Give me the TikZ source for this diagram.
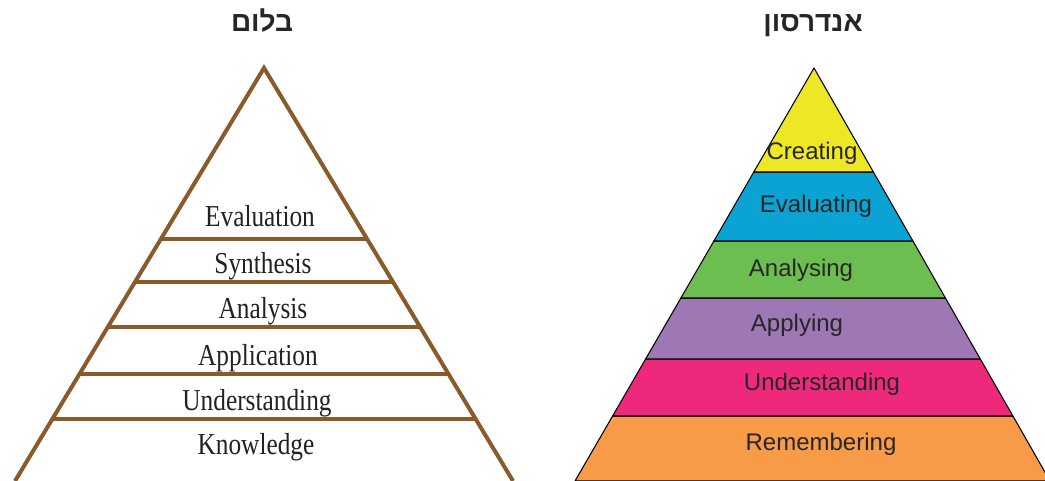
\documentclass[tikz,border=0pt]{standalone}
\usepackage{fontspec}
\setmainfont{Liberation Serif}
\setsansfont{Liberation Sans}
\newfontfamily\hebfont[Script=Hebrew]{Liberation Sans}
\TeXXeTstate=1
\definecolor{brownline}{HTML}{8B5A2B}
\definecolor{cyellow}{HTML}{EDE726}
\definecolor{cblue}{HTML}{0AA3D4}
\definecolor{cgreen}{HTML}{6DBE50}
\definecolor{cpurple}{HTML}{9D78B5}
\definecolor{cpink}{HTML}{EE297B}
\definecolor{corange}{HTML}{F79B48}
\definecolor{txtgray}{HTML}{222222}
\newcommand\tallbox[1]{\scalebox{1}[1.2]{#1}}
\tikzset{
  bline/.style={draw=brownline, line width=3pt},
  band/.style={draw=black, line width=0.8pt, line join=round},
  bloomtxt/.style={inner sep=0pt, text=txtgray, font=\fontsize{19}{19}\selectfont},
  andtxt/.style={inner sep=0pt, text=black!85, font=\sffamily\fontsize{18}{18}\selectfont},
  titletxt/.style={inner sep=0pt, anchor=base, text=black!85, font=\hebfont\bfseries\fontsize{21}{21}\selectfont}
}
\begin{document}
\begin{tikzpicture}[x=0.75pt,y=-0.75pt]
\useasboundingbox (0,0) rectangle (1045,481);
\clip (0,0) rectangle (1045,481);
% titles
\node[titletxt] (tbloom) at (262,32) {\beginR בלום\endR};
\node[titletxt] (tand) at (813,32) {\beginR אנדרסון\endR};
% Bloom pyramid
\draw[bline, line join=miter] (15,481) -- (264,68) -- (513,481);
\draw[bline] (160.9,239) -- (367.1,239);
\draw[bline] (135,282) -- (393,282);
\draw[bline] (107.8,327) -- (420.2,327);
\draw[bline] (79.5,374) -- (448.5,374);
\draw[bline] (52.3,419) -- (475.7,419);
\node[bloomtxt] (b1) at (260,216) {\tallbox{Evaluation}};
\node[bloomtxt] (b2) at (263,266) {\tallbox{Synthesis}};
\node[bloomtxt] (b3) at (263,311) {\tallbox{Analysis}};
\node[bloomtxt] (b4) at (258,358) {\tallbox{Application}};
\node[bloomtxt] (b5) at (257,403) {\tallbox{Understanding}};
\node[bloomtxt] (b6) at (256,447) {\tallbox{Knowledge}};
% Anderson pyramid
\filldraw[band, fill=corange] (575,481) -- (612.6,416) -- (1012.9,416) -- (1050,481) -- cycle;
\filldraw[band, fill=cpink] (612.6,416) -- (645.6,359) -- (980.3,359) -- (1012.9,416) -- cycle;
\filldraw[band, fill=cpurple] (645.6,359) -- (680.9,298) -- (945.4,298) -- (980.3,359) -- cycle;
\filldraw[band, fill=cgreen] (680.9,298) -- (713.9,241) -- (912.9,241) -- (945.4,298) -- cycle;
\filldraw[band, fill=cblue] (713.9,241) -- (753.8,172) -- (873.4,172) -- (912.9,241) -- cycle;
\filldraw[band, fill=cyellow] (753.8,172) -- (814,68) -- (873.4,172) -- cycle;
\node[andtxt] (a1) at (812,153) {Creating};
\node[andtxt] (a2) at (816,206) {Evaluating};
\node[andtxt] (a3) at (801,270) {Analysing};
\node[andtxt] (a4) at (797,325) {Applying};
\node[andtxt] (a5) at (822,384) {Understanding};
\node[andtxt] (a6) at (821,444) {Remembering};
\end{tikzpicture}
\end{document}
